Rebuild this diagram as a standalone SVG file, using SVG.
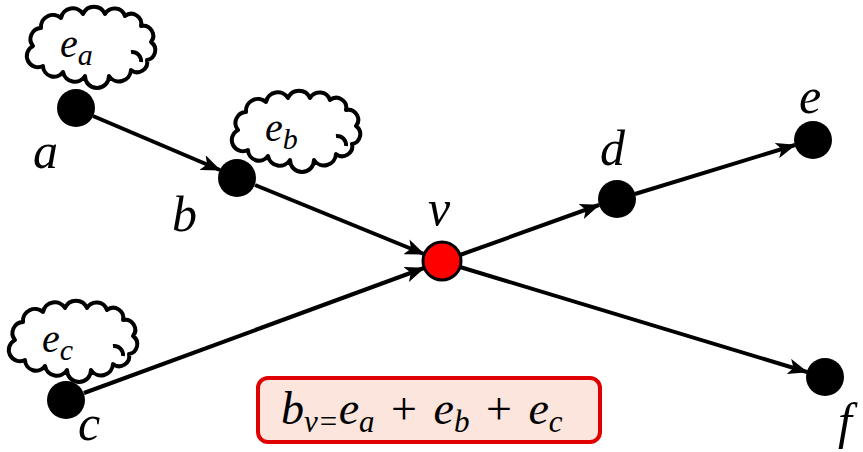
<svg xmlns="http://www.w3.org/2000/svg" width="863" height="452" viewBox="0 0 863 452">
<style>
.node{fill:#000}
.edge{stroke:#000;stroke-width:4;fill:none;marker-end:url(#arr)}
.lbl{font-family:"Liberation Serif","DejaVu Serif",serif;font-style:italic;font-size:50px;fill:#000}
.cl{fill:#fff;stroke:#000;stroke-width:4;stroke-linejoin:round}
.ct{font-family:"Liberation Serif","DejaVu Serif",serif;font-style:italic;font-size:40px;fill:#000}
.fm{font-family:"Liberation Serif","DejaVu Serif",serif;font-style:italic;font-size:46px;fill:#000;word-spacing:5px}
.sub{font-size:30px}
.fs{font-size:31px}
.up{font-style:normal}
</style>
<defs>
<marker id="arr" markerUnits="userSpaceOnUse" markerWidth="20" markerHeight="16" refX="19" refY="8" orient="auto">
<path d="M0,0 L20,8 L0,16 L5,8 Z" fill="#000"/>
</marker>
<g id="cloud">
<path class="cl" d="M6,38 A11,11 0 0,1 14,20 A12,12 0 0,1 34,10 A12,12 0 0,1 56,6 A12,12 0 0,1 78,6 A11,11 0 0,1 98,8 A10,10 0 0,1 114,18 A10,10 0 0,1 124,34 A10,10 0 0,1 120,52 A10,10 0 0,1 104,62 A12,12 0 0,1 82,68 A12,12 0 0,1 58,68 A12,12 0 0,1 36,64 A11,11 0 0,1 16,58 A11,11 0 0,1 6,38 Z"/>
<path d="M104,44 A9,9 0 0,1 114,54" fill="none" stroke="#000" stroke-width="4"/>
</g>
</defs>
<g id="connectors">
<line class="edge" x1="93" y1="116" x2="220" y2="170"/>
<line class="edge" x1="255" y1="185" x2="424" y2="254"/>
<line class="edge" x1="84" y1="393" x2="424" y2="268"/>
<line class="edge" x1="460" y1="255" x2="599" y2="205"/>
<line class="edge" x1="635" y1="194" x2="795" y2="145"/>
<line class="edge" x1="460" y1="267" x2="807" y2="372"/>
</g>
<g id="cloud-a">
<use href="#cloud" x="27" y="8"/>
<text class="ct" x="60" y="57">e<tspan class="sub" dy="8">a</tspan></text>
</g>
<g id="cloud-b">
<use href="#cloud" x="232" y="92"/>
<text class="ct" x="265" y="141">e<tspan class="sub" dy="8">b</tspan></text>
</g>
<g id="cloud-c">
<use href="#cloud" x="9" y="302"/>
<text class="ct" x="42" y="352">e<tspan class="sub" dy="8">c</tspan></text>
</g>
<g id="node-a">
<circle class="node" cx="76" cy="108" r="19"/>
<text class="lbl" x="33" y="168">a</text>
</g>
<g id="node-b">
<circle class="node" cx="237" cy="178" r="19"/>
<text class="lbl" x="172" y="231">b</text>
</g>
<g id="node-c">
<circle class="node" cx="66" cy="400" r="19"/>
<text class="lbl" x="78" y="440">c</text>
</g>
<g id="node-v">
<circle cx="442" cy="261" r="19" fill="#f00" stroke="#000" stroke-width="3"/>
<text class="lbl" x="428" y="225">v</text>
</g>
<g id="node-d">
<circle class="node" cx="617" cy="199" r="19"/>
<text class="lbl" x="600" y="165">d</text>
</g>
<g id="node-e">
<circle class="node" cx="813" cy="140" r="19"/>
<text class="lbl" x="799" y="113">e</text>
</g>
<g id="node-f">
<circle class="node" cx="825" cy="377" r="19"/>
<text class="lbl" x="838" y="438">f</text>
</g>
<g id="formula">
<rect x="258" y="378" width="342" height="64" rx="10" ry="10" fill="#fbe5dc" stroke="#e00000" stroke-width="4"/>
<text class="fm" x="281" y="424">b<tspan class="fs" dy="8">v=</tspan><tspan dy="-8">e</tspan><tspan class="fs" dy="8">a</tspan><tspan dy="-8" class="up"> + </tspan><tspan>e</tspan><tspan class="fs" dy="8">b</tspan><tspan dy="-8" class="up"> + </tspan><tspan>e</tspan><tspan class="fs" dy="8">c</tspan></text>
</g>
</svg>
